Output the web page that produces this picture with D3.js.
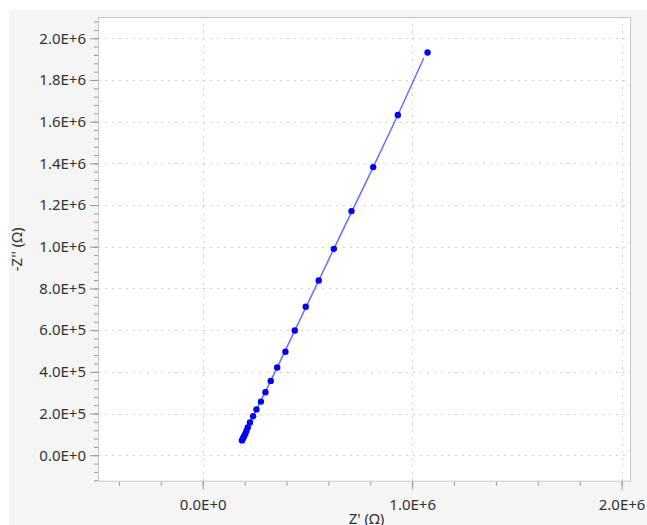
<!DOCTYPE html>
<html>
<head>
<meta charset="utf-8">
<script src="https://cdn.jsdelivr.net/npm/d3@7"></script>
<style>
  body { margin: 0; background: #fff; }
  text { font-family: "Noto Sans", "Open Sans", sans-serif; fill: #333; }
</style>
</head>
<body>
<div id="chart"></div>
<script>
'use strict';

// measured points (Z', -Z'')
var zReal = [1.0736e6, 0.9317e6, 0.8141e6, 0.7105e6, 0.626e6, 0.554e6, 0.492e6, 0.4396e6,
             0.395e6, 0.3555e6, 0.325e6, 0.2996e6, 0.278e6, 0.2566e6, 0.2408e6, 0.2255e6,
             0.215e6, 0.2088e6, 0.203e6, 0.1968e6, 0.192e6, 0.1873e6];
var zImag = [1.932e6, 1.632e6, 1.382e6, 1.171e6, 0.99e6, 0.838e6, 0.712e6, 0.598e6,
             0.496e6, 0.4205e6, 0.3566e6, 0.3024e6, 0.2573e6, 0.2198e6, 0.1872e6, 0.1574e6,
             0.1334e6, 0.1166e6, 0.1022e6, 0.0902e6, 0.0806e6, 0.071e6];

// fitted curve
var fitReal = [0.1873e6, 0.2255e6, 0.325e6, 0.4396e6, 0.626e6, 0.8141e6, 0.9317e6, 1.0559e6];
var fitImag = [0.071e6, 0.1574e6, 0.3566e6, 0.598e6, 0.99e6, 1.382e6, 1.632e6, 1.9055e6];

var xTicks = [0, 1e6, 2e6];
var xMinorTicks = [-0.4e6, -0.2e6, 0, 0.2e6, 0.4e6, 0.6e6, 0.8e6, 1e6, 1.2e6, 1.4e6, 1.6e6, 1.8e6, 2e6];
var yTicks = [0, 2e5, 4e5, 6e5, 8e5, 1e6, 1.2e6, 1.4e6, 1.6e6, 1.8e6, 2e6];

var W = 647, H = 525;
var plot = {left: 98, top: 17, right: 631, bottom: 481.7};

var svg = d3.select('#chart').append('svg')
    .attr('width', W).attr('height', H);

svg.append('rect')
    .attr('x', 9).attr('y', 10).attr('width', W - 9).attr('height', H - 10)
    .attr('fill', '#f5f5f5');

var x = d3.scaleLinear().domain([-0.5e6, 2.045e6]).range([plot.left, plot.right]);
var y = d3.scaleLinear().domain([-0.127e6, 2.102e6]).range([plot.bottom, plot.top]);

var fmt = function(v) { return d3.format('.1e')(v).toUpperCase(); };

svg.append('rect')
    .attr('x', plot.left).attr('y', plot.top)
    .attr('width', plot.right - plot.left).attr('height', plot.bottom - plot.top)
    .attr('fill', '#fff');

// grid
var grid = svg.append('g')
    .attr('stroke', '#cfcfcf').attr('stroke-dasharray', '2,5').attr('stroke-width', 1);
grid.selectAll('.gx').data(xTicks).enter().append('line')
    .attr('x1', function(d) { return Math.round(x(d)) + 0.5; })
    .attr('x2', function(d) { return Math.round(x(d)) + 0.5; })
    .attr('y1', plot.top).attr('y2', plot.bottom);
grid.selectAll('.gy').data(yTicks).enter().append('line')
    .attr('y1', function(d) { return Math.round(y(d)) + 0.5; })
    .attr('y2', function(d) { return Math.round(y(d)) + 0.5; })
    .attr('x1', plot.left).attr('x2', plot.right);

// border
svg.append('rect')
    .attr('x', plot.left + 0.5).attr('y', plot.top + 0.5)
    .attr('width', plot.right - plot.left - 1).attr('height', plot.bottom - plot.top - 1)
    .attr('fill', 'none').attr('stroke', '#c8c8c8');

// axes
var yMinor = d3.range(-0.12e6, 2.1e6, 0.04e6);

var yAxisMinor = svg.append('g')
    .attr('transform', 'translate(' + plot.left + ',0)')
    .call(d3.axisLeft(y).tickValues(yMinor).tickSize(4).tickFormat(''));
var yAxis = svg.append('g')
    .attr('transform', 'translate(' + plot.left + ',0)')
    .call(d3.axisLeft(y).tickValues(yTicks).tickSize(8).tickPadding(4).tickFormat(fmt));

var xAxisMinor = svg.append('g')
    .attr('transform', 'translate(0,' + plot.bottom + ')')
    .call(d3.axisBottom(x).tickValues(xMinorTicks).tickSize(4).tickFormat(''));
var xAxis = svg.append('g')
    .attr('transform', 'translate(0,' + plot.bottom + ')')
    .call(d3.axisBottom(x).tickValues(xTicks).tickSize(8).tickPadding(10).tickFormat(fmt));

[yAxisMinor, yAxis, xAxisMinor, xAxis].forEach(function(g) {
    g.select('.domain').remove();
    g.selectAll('.tick line').attr('stroke', '#999');
    g.selectAll('text')
        .attr('fill', '#333')
        .style('font-size', '15px')
        .style('font-family', '"Noto Sans", "Open Sans", sans-serif');
});

// titles
svg.append('text')
    .attr('x', (plot.left + plot.right) / 2 + 2).attr('y', 524)
    .attr('text-anchor', 'middle').style('font-size', '15px')
    .text("Z' (Ω)");
svg.append('text')
    .attr('transform', 'translate(22,' + (plot.top + plot.bottom) / 2 + ') rotate(-90)')
    .attr('text-anchor', 'middle').style('font-size', '15px')
    .text("-Z'' (Ω)");

// fit line
var line = d3.line()
    .x(function(d) { return x(d[0]); })
    .y(function(d) { return y(d[1]); });
svg.append('path')
    .datum(d3.zip(fitReal, fitImag))
    .attr('d', line)
    .attr('fill', 'none').attr('stroke', '#6b6bff').attr('stroke-width', 1.5);

// points
svg.selectAll('.pt').data(d3.zip(zReal, zImag)).enter().append('circle')
    .attr('cx', function(d) { return x(d[0]); })
    .attr('cy', function(d) { return y(d[1]); })
    .attr('r', 3.2)
    .attr('fill', '#0000ff');
</script>
</body>
</html>
